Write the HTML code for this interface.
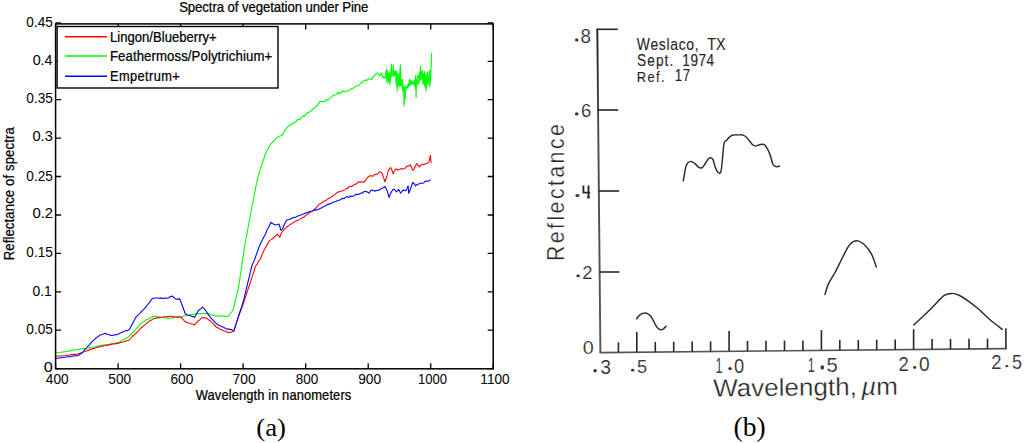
<!DOCTYPE html><html><head><meta charset="utf-8"><style>
html,body{margin:0;padding:0;background:#fff;}
body{width:1024px;height:443px;overflow:hidden;}
svg{display:block;}
</style></head><body>
<svg width="1024" height="443" viewBox="0 0 1024 443">
<rect width="1024" height="443" fill="#fff"/>
<g fill="#000">
<text transform="translate(179.14,12.30) scale(0.9300,1)" font-family="'Liberation Sans', sans-serif" font-style="normal" font-size="14.20" letter-spacing="-0.102" stroke="#000" stroke-width="0.25">Spectra of vegetation under Pine</text>
<polyline fill="none" stroke="#00ff00" stroke-width="1.1" stroke-linejoin="round" points="55.6,353.0 66.0,351.5 67.2,351.2 68.5,351.1 69.7,351.1 70.9,350.6 72.2,350.4 73.4,350.2 74.6,349.8 75.9,349.7 77.1,349.5 78.4,349.4 79.7,349.3 81.0,348.8 82.4,348.7 83.7,348.4 85.0,348.5 86.3,348.5 87.5,348.2 88.8,347.6 90.0,347.9 91.3,347.7 92.6,347.2 93.8,347.0 95.1,346.7 96.3,346.3 97.6,346.0 98.8,346.1 100.0,345.6 101.3,345.5 102.5,345.3 103.8,344.9 105.0,345.0 106.3,344.7 107.5,344.5 108.8,344.5 110.1,344.1 111.3,343.9 112.6,343.6 113.9,343.5 115.2,343.1 116.4,342.8 117.7,342.7 119.0,342.3 120.3,341.6 121.7,340.9 123.0,340.0 124.2,339.4 125.4,338.5 126.6,337.8 127.8,337.2 129.0,336.6 130.2,335.0 131.4,334.1 132.6,332.6 133.8,331.5 135.0,330.0 136.3,328.5 137.7,327.4 139.0,325.9 140.3,324.2 141.6,323.0 143.0,322.1 144.3,321.6 145.7,320.4 147.0,319.5 148.4,319.1 149.7,318.2 151.1,317.3 152.4,317.0 153.8,316.3 155.0,316.6 156.3,316.4 157.5,316.5 158.8,316.8 160.0,317.0 161.2,317.5 162.5,317.7 163.7,317.5 164.9,317.8 166.2,318.0 167.4,318.5 168.7,318.1 169.9,318.3 171.2,317.8 172.5,317.9 173.7,317.6 175.0,317.5 176.5,317.2 177.9,317.4 179.4,316.9 180.9,317.0 182.3,316.7 183.7,316.0 185.2,315.8 186.6,315.2 188.0,315.0 189.3,314.7 190.6,314.9 191.9,314.6 193.2,314.1 194.5,314.0 195.9,314.1 197.2,313.6 198.6,313.6 200.0,313.5 201.3,313.7 202.7,313.5 204.0,313.2 205.3,313.7 206.7,313.2 208.0,313.3 209.3,313.7 210.7,314.6 212.0,315.0 213.2,315.2 214.5,315.5 215.8,315.7 217.0,316.3 218.2,316.0 219.5,316.2 220.8,315.9 222.0,316.0 223.3,316.1 224.5,316.0 225.8,316.2 227.0,316.5 228.3,316.3 229.9,314.1 231.5,312.0 233.1,309.8 234.5,304.4 235.8,298.3 237.2,292.6 238.6,287.2 239.9,278.4 241.3,269.3 242.6,259.9 244.0,250.9 245.3,242.0 246.7,234.9 248.0,227.8 249.4,220.2 250.7,213.4 252.1,205.9 253.4,199.4 254.8,192.4 256.1,185.5 257.5,178.8 258.8,174.2 260.1,169.9 261.4,165.8 262.9,161.5 264.5,156.6 266.0,152.2 267.5,149.7 269.0,146.8 270.5,144.3 271.9,143.0 273.3,141.3 274.7,139.6 276.1,138.2 277.8,137.1 279.5,136.4 281.8,135.3 283.2,133.4 284.6,130.9 286.0,128.9 287.4,127.0 288.8,125.7 290.1,125.4 291.5,124.3 292.8,123.9 294.2,122.9 295.5,122.2 296.9,120.3 298.2,119.3 299.6,119.9 300.9,118.4 302.3,116.8 303.6,115.6 305.0,115.9 306.3,113.8 307.7,112.7 309.1,112.4 310.4,110.9 311.8,110.3 313.1,108.5 314.5,108.2 315.9,106.7 317.3,105.5 318.7,103.1 320.1,101.4 321.6,101.8 323.1,101.7 324.6,101.4 326.0,99.8 327.5,100.2 328.9,99.1 330.3,98.1 331.7,96.7 333.1,95.3 334.5,95.1 336.2,94.4 337.9,92.3 339.0,94.0 340.7,92.5 342.4,91.1 343.9,91.5 345.4,91.8 346.9,91.1 348.3,90.8 349.8,90.5 351.2,88.8 352.6,88.3 354.1,87.9 355.6,86.3 357.1,85.5 358.5,85.4 359.9,84.5 361.3,82.2 362.7,82.1 364.1,80.6 365.5,79.9 367.0,80.4 368.4,78.7 370.1,79.1 371.8,79.8 372.9,76.5 374.4,75.6 375.9,73.9 377.4,73.1 379.7,75.9 381.4,73.1 383.1,78.1 384.0,76.7 384.9,78.3 385.7,73.9 386.5,68.8 386.7,81.7 387.0,82.7 387.7,71.0 388.8,82.8 389.2,72.2 389.6,73.8 389.7,84.1 390.8,77.8 391.3,64.1 391.7,67.5 391.8,76.6 393.0,73.6 393.3,64.8 393.8,76.6 394.0,70.7 394.8,75.3 395.3,70.9 395.8,72.1 395.8,80.0 396.6,86.2 396.7,71.5 397.2,90.9 397.8,74.3 398.7,85.4 398.9,82.2 399.2,73.6 399.8,86.8 399.9,70.5 400.3,64.8 400.7,72.9 400.8,84.7 401.2,85.4 401.7,79.5 402.1,88.2 402.6,79.7 402.7,91.2 403.4,86.4 403.8,90.4 403.9,105.8 404.7,95.9 404.8,86.4 405.3,99.0 405.9,87.3 406.8,85.8 406.9,88.0 407.3,88.2 408.2,83.9 408.9,86.8 409.1,84.0 409.4,79.7 410.0,80.9 410.2,85.4 410.7,79.7 411.2,84.5 412.2,81.1 412.3,84.1 412.8,81.0 413.3,83.3 414.3,85.4 414.4,81.7 414.8,79.7 415.4,88.7 415.6,75.6 416.1,97.6 416.5,79.7 417.0,85.4 417.5,75.6 417.5,81.7 418.8,84.1 418.8,75.5 419.3,72.9 419.9,80.8 420.4,66.1 420.9,80.0 421.1,70.9 422.4,78.9 422.4,70.2 422.9,84.1 423.3,73.3 424.4,85.6 424.5,71.5 425.0,86.8 425.5,75.7 425.8,90.9 426.3,75.6 426.3,88.2 427.2,71.5 427.5,72.8 427.7,84.1 428.4,83.0 429.2,72.9 429.7,70.3 429.7,86.8 430.7,79.0 431.6,52.9"/>
<polyline fill="none" stroke="#ff0000" stroke-width="1.1" stroke-linejoin="round" points="55.6,356.2 66.0,355.5 67.2,355.3 68.5,355.3 69.7,355.1 70.9,354.6 72.2,354.4 73.4,354.4 74.6,354.2 75.9,354.4 77.1,354.0 78.4,353.7 79.7,353.2 81.0,352.8 82.4,352.4 83.7,351.7 85.0,351.5 86.3,351.0 87.5,350.4 88.8,350.4 90.0,349.4 91.3,349.4 92.6,348.5 93.8,348.5 95.1,347.9 96.3,347.5 97.6,347.2 98.8,347.2 100.0,346.4 101.3,346.1 102.5,346.3 103.8,345.8 105.0,345.5 106.3,345.0 107.5,345.4 108.8,345.1 110.1,344.4 111.3,344.4 112.6,344.0 113.9,343.9 115.2,343.9 116.4,343.4 117.7,343.4 119.0,343.2 120.3,342.4 121.7,342.2 123.0,342.0 124.2,341.8 125.4,341.1 126.6,340.8 127.8,340.5 129.0,340.0 130.2,338.8 131.4,337.5 132.6,336.1 133.8,335.3 135.0,334.0 136.3,333.0 137.7,331.6 139.0,330.1 140.3,328.7 141.6,327.5 143.0,326.3 144.3,325.4 145.7,324.2 147.0,323.0 148.4,321.9 149.7,321.0 151.1,320.2 152.4,319.4 153.8,318.5 155.0,318.5 156.3,318.1 157.5,317.6 158.8,317.9 160.0,317.5 161.4,317.3 162.7,317.2 164.1,316.8 165.5,316.8 166.9,316.6 168.2,316.6 169.6,316.3 170.9,316.2 172.3,316.7 173.7,316.6 175.0,317.0 176.5,317.1 177.9,316.7 179.4,316.9 180.9,317.0 182.4,318.5 183.9,320.3 185.4,321.9 186.9,322.2 188.5,322.9 190.0,323.5 191.5,323.8 193.0,324.3 194.5,324.9 196.2,322.9 198.0,321.0 199.5,320.1 200.9,318.6 202.4,317.4 204.2,318.0 206.0,318.0 207.4,318.7 208.9,320.1 210.3,320.8 211.6,322.1 213.0,323.3 214.3,325.0 215.7,326.5 217.0,327.6 218.2,327.9 219.5,328.7 220.8,329.6 222.0,330.0 223.3,330.5 224.5,331.0 225.8,331.4 227.0,332.0 228.3,332.8 229.7,332.4 231.2,332.1 232.6,331.7 234.0,330.9 235.3,326.6 236.7,322.0 238.0,318.0 239.3,314.3 240.6,311.0 241.9,307.4 243.2,303.7 244.5,300.0 245.9,295.7 247.2,291.8 248.6,287.6 250.0,283.5 251.3,279.3 252.7,274.9 254.0,271.0 255.3,266.5 256.9,264.4 258.4,261.6 260.0,259.5 261.4,256.2 262.7,253.5 264.1,250.1 265.5,247.6 266.8,245.6 268.1,243.0 269.5,240.6 271.1,239.6 272.6,238.5 274.2,237.2 275.9,235.5 277.6,234.1 279.7,237.2 281.7,232.5 283.3,230.6 284.8,228.8 286.4,227.1 287.8,226.3 289.1,225.4 290.4,224.2 291.8,223.7 293.1,222.6 294.5,221.7 295.9,220.9 297.2,220.4 298.6,220.0 300.0,219.1 301.4,218.2 302.7,217.4 304.1,216.7 305.4,215.8 306.8,214.6 308.1,213.8 309.4,212.7 310.8,211.9 312.1,211.1 313.4,210.1 314.7,209.0 316.0,207.8 317.2,206.4 318.5,205.1 319.8,203.9 321.2,203.2 322.6,202.2 324.0,201.1 325.4,200.6 326.8,199.9 328.2,198.8 329.5,198.1 330.8,197.3 332.0,196.5 333.3,195.4 334.6,194.7 335.8,193.6 337.1,192.6 338.4,192.0 339.7,191.6 341.0,191.3 342.4,190.8 343.7,190.4 345.0,189.6 346.3,188.6 347.7,188.6 349.0,186.5 350.4,186.5 351.7,186.6 353.1,185.2 354.6,184.6 356.1,184.1 357.6,182.6 359.0,181.8 360.3,182.3 361.7,181.8 363.0,182.1 364.4,181.9 366.0,179.7 367.7,177.3 368.9,176.1 370.1,176.0 371.3,175.7 372.6,176.3 373.8,175.7 375.0,174.3 376.2,174.4 377.6,174.0 378.9,172.0 380.3,171.7 382.3,173.7 383.6,177.9 385.0,181.8 387.1,175.7 388.4,170.3 390.5,167.6 391.9,170.1 393.2,173.7 395.2,169.6 396.6,168.8 397.9,170.2 399.3,169.6 400.6,168.9 402.0,168.7 403.3,169.0 405.0,168.4 406.7,166.2 408.4,166.1 410.1,164.9 411.5,167.3 412.8,170.3 414.2,168.8 415.5,165.8 416.9,163.5 418.2,165.5 419.6,166.9 421.0,165.1 422.3,164.2 423.6,164.7 425.0,164.0 426.3,163.5 427.6,163.2 429.0,161.5 430.4,155.4 431.1,162.9"/>
<polyline fill="none" stroke="#0000ff" stroke-width="1.1" stroke-linejoin="round" points="55.6,358.5 66.0,357.0 67.2,356.7 68.5,356.8 69.7,356.7 70.9,356.7 72.2,356.1 73.4,356.0 74.6,355.9 75.9,355.8 77.1,355.8 78.6,355.2 80.1,354.0 81.6,353.5 82.9,352.0 84.2,350.3 85.4,348.9 86.7,347.5 88.0,346.0 89.4,344.8 90.8,343.2 92.3,341.4 93.7,340.1 95.1,338.8 96.3,337.6 97.5,337.1 98.8,336.1 100.0,335.0 101.3,334.7 102.7,334.3 104.0,333.8 105.3,333.2 106.7,334.0 108.1,334.5 109.5,334.8 110.9,335.5 112.3,335.5 113.6,335.0 115.0,334.9 116.3,334.6 117.7,334.3 119.0,333.7 120.2,333.1 121.5,332.6 122.7,331.9 124.0,331.5 125.2,330.8 126.5,330.8 127.8,330.4 129.0,329.8 130.4,327.6 131.7,325.0 133.1,322.4 134.4,320.0 135.8,317.4 137.1,315.9 138.4,314.9 139.7,313.5 140.9,312.1 142.2,310.8 143.5,309.7 144.8,308.4 146.1,306.6 147.4,305.0 148.8,303.4 150.1,301.5 151.4,299.7 152.7,298.2 153.9,298.2 155.1,298.0 156.3,298.0 157.6,298.0 158.8,298.1 160.0,298.2 161.2,297.9 162.5,298.3 163.7,298.5 164.9,298.1 166.2,298.3 167.4,298.2 168.9,297.7 170.4,296.5 171.9,296.0 173.6,297.2 175.3,298.9 176.8,299.1 178.3,299.1 179.8,298.9 181.2,302.8 182.6,306.2 184.0,310.2 185.4,314.0 186.9,314.7 188.5,315.2 190.0,315.5 191.5,316.3 193.0,316.6 194.5,317.4 196.2,314.4 198.0,311.0 199.5,309.7 200.9,308.6 202.4,307.2 204.2,308.9 206.0,311.0 207.4,313.4 208.9,315.3 210.3,317.4 211.6,318.9 213.0,319.9 214.3,321.6 215.7,322.9 217.0,324.2 218.3,324.9 219.6,325.4 220.9,326.3 222.2,326.7 223.5,327.3 224.8,327.9 226.1,328.7 227.4,329.1 228.7,329.1 230.1,329.4 231.4,329.6 232.7,330.3 234.0,330.5 235.3,326.4 236.7,322.2 238.0,318.0 239.3,313.7 240.6,310.0 241.9,306.0 243.7,300.0 245.0,294.3 246.4,288.6 247.7,283.0 249.0,278.0 250.4,271.9 251.7,266.5 253.1,262.9 254.6,259.5 256.2,254.9 257.8,250.6 259.4,246.0 260.8,243.0 262.1,240.6 263.4,237.8 264.8,235.2 266.0,232.8 267.2,229.7 268.5,227.4 269.7,224.9 270.9,222.3 272.2,223.5 273.6,224.1 274.9,225.0 276.3,224.7 277.6,224.5 279.0,224.1 281.0,230.4 282.4,229.1 283.7,226.0 285.1,223.0 286.4,220.3 287.8,219.8 289.1,219.5 290.4,218.9 291.8,218.3 293.2,217.6 294.5,217.4 295.9,217.0 297.3,216.1 298.6,215.8 300.0,215.2 301.3,214.7 302.5,214.2 303.8,213.7 305.0,213.2 306.3,212.9 307.5,212.3 308.8,212.0 310.0,211.4 311.3,211.2 312.6,211.0 313.9,210.5 315.2,209.8 316.6,209.9 317.9,209.2 319.2,209.0 320.5,208.3 321.8,207.7 323.1,206.9 324.3,206.2 325.6,205.7 326.9,204.8 328.2,204.4 329.5,204.1 330.8,203.2 332.0,203.1 333.3,202.3 334.6,201.8 335.8,201.4 337.1,200.7 338.4,200.5 339.8,199.9 341.1,199.2 342.5,198.2 343.8,198.8 345.2,197.7 346.5,196.6 347.8,197.1 349.1,197.5 350.5,195.9 351.8,196.4 353.1,196.0 354.4,195.7 355.8,194.3 357.1,194.4 358.5,194.5 359.8,193.7 361.2,193.1 362.6,193.0 364.1,191.5 365.5,191.5 367.2,191.9 368.9,193.1 370.8,190.6 372.1,190.0 373.5,190.6 374.9,191.3 376.2,190.6 377.6,190.3 378.9,190.2 380.3,189.3 381.9,188.2 383.4,187.8 385.0,186.5 387.1,190.6 389.1,197.4 390.8,193.0 392.5,189.9 394.5,189.3 396.5,192.0 398.6,189.3 400.6,193.3 402.0,191.3 403.3,189.9 404.6,190.5 406.0,190.6 408.1,185.9 408.7,193.3 410.1,190.1 411.4,186.0 412.8,182.5 414.1,183.5 415.5,185.9 416.9,184.8 418.2,184.0 419.6,183.8 421.0,183.1 422.3,183.2 423.6,183.0 425.0,181.3 426.3,181.1 427.7,181.3 429.0,180.8 430.4,179.8"/>
<rect x="55.6" y="23.9" width="437.59999999999997" height="344.90000000000003" fill="none" stroke="#000" stroke-width="1.5"/>
<path d="M55.6,368.8v-5.5M55.6,23.9v5.5M118.1,368.8v-5.5M118.1,23.9v5.5M180.6,368.8v-5.5M180.6,23.9v5.5M243.1,368.8v-5.5M243.1,23.9v5.5M305.7,368.8v-5.5M305.7,23.9v5.5M368.2,368.8v-5.5M368.2,23.9v5.5M430.7,368.8v-5.5M430.7,23.9v5.5M493.2,368.8v-5.5M493.2,23.9v5.5M55.6,368.6h5.5M493.2,368.6h-5.5M55.6,330.2h5.5M493.2,330.2h-5.5M55.6,291.8h5.5M493.2,291.8h-5.5M55.6,253.4h5.5M493.2,253.4h-5.5M55.6,215.0h5.5M493.2,215.0h-5.5M55.6,176.5h5.5M493.2,176.5h-5.5M55.6,138.1h5.5M493.2,138.1h-5.5M55.6,99.7h5.5M493.2,99.7h-5.5M55.6,61.3h5.5M493.2,61.3h-5.5M55.6,22.9h5.5M493.2,22.9h-5.5" stroke="#000" stroke-width="1.3" fill="none"/>
<text transform="translate(45.83,383.66) scale(0.9800,1)" font-family="'Liberation Sans', sans-serif" font-style="normal" font-size="13.94" >400</text>
<text transform="translate(108.36,383.66) scale(0.9743,1)" font-family="'Liberation Sans', sans-serif" font-style="normal" font-size="13.94" >500</text>
<text transform="translate(170.41,383.66) scale(0.9850,1)" font-family="'Liberation Sans', sans-serif" font-style="normal" font-size="13.94" >600</text>
<text transform="translate(232.61,383.66) scale(0.9941,1)" font-family="'Liberation Sans', sans-serif" font-style="normal" font-size="13.94" >700</text>
<text transform="translate(295.66,383.66) scale(0.9698,1)" font-family="'Liberation Sans', sans-serif" font-style="normal" font-size="13.94" >800</text>
<text transform="translate(358.21,383.66) scale(0.9850,1)" font-family="'Liberation Sans', sans-serif" font-style="normal" font-size="13.94" >900</text>
<text transform="translate(417.95,383.66) scale(0.9426,1)" font-family="'Liberation Sans', sans-serif" font-style="normal" font-size="13.94" >1000</text>
<text transform="translate(480.31,383.66) scale(0.9786,1)" font-family="'Liberation Sans', sans-serif" font-style="normal" font-size="13.94" >1100</text>
<text transform="translate(43.85,371.96) scale(1.1311,1)" font-family="'Liberation Sans', sans-serif" font-style="normal" font-size="14.37" >0</text>
<text transform="translate(26.36,334.06) scale(0.9562,1)" font-family="'Liberation Sans', sans-serif" font-style="normal" font-size="14.23" >0.05</text>
<text transform="translate(32.44,296.36) scale(0.9788,1)" font-family="'Liberation Sans', sans-serif" font-style="normal" font-size="14.23" >0.1</text>
<text transform="translate(26.36,256.66) scale(0.9658,1)" font-family="'Liberation Sans', sans-serif" font-style="normal" font-size="14.08" >0.15</text>
<text transform="translate(32.40,218.36) scale(1.0702,1)" font-family="'Liberation Sans', sans-serif" font-style="normal" font-size="13.94" >0.2</text>
<text transform="translate(26.36,180.66) scale(0.9658,1)" font-family="'Liberation Sans', sans-serif" font-style="normal" font-size="14.08" >0.25</text>
<text transform="translate(32.41,141.16) scale(1.0303,1)" font-family="'Liberation Sans', sans-serif" font-style="normal" font-size="14.23" >0.3</text>
<text transform="translate(26.36,103.16) scale(0.9562,1)" font-family="'Liberation Sans', sans-serif" font-style="normal" font-size="14.23" >0.35</text>
<text transform="translate(32.63,65.15) scale(0.9870,1)" font-family="'Liberation Sans', sans-serif" font-style="normal" font-size="14.51" >0.4</text>
<text transform="translate(26.36,26.95) scale(0.9286,1)" font-family="'Liberation Sans', sans-serif" font-style="normal" font-size="14.65" >0.45</text>
<text transform="translate(195.77,399.60) scale(0.9300,1)" font-family="'Liberation Sans', sans-serif" font-style="normal" font-size="13.91" letter-spacing="0.102" stroke="#000" stroke-width="0.25">Wavelength in nanometers</text>
<text transform="translate(14.40,260.35) rotate(-90) scale(0.9300,1)" font-family="'Liberation Sans', sans-serif" font-style="normal" font-size="14.06" letter-spacing="0.157" stroke="#000" stroke-width="0.25">Reflectance of spectra</text>
<rect x="57.1" y="26.5" width="220.9" height="61.5" fill="#fff" stroke="#000" stroke-width="1.4"/>
<path d="M65,36.7h42" stroke="#ff0000" stroke-width="1.5"/>
<path d="M65,55.9h42" stroke="#00ff00" stroke-width="1.5"/>
<path d="M65,76.3h42" stroke="#0000ff" stroke-width="1.5"/>
<text transform="translate(109.95,41.60) scale(0.9300,1)" font-family="'Liberation Sans', sans-serif" font-style="normal" font-size="14.06" letter-spacing="0.025" stroke="#000" stroke-width="0.25">Lingon/Blueberry+</text>
<text transform="translate(109.94,60.90) scale(0.9300,1)" font-family="'Liberation Sans', sans-serif" font-style="normal" font-size="14.20" letter-spacing="0.088" stroke="#000" stroke-width="0.25">Feathermoss/Polytrichium+</text>
<text transform="translate(109.98,80.80) scale(0.9300,1)" font-family="'Liberation Sans', sans-serif" font-style="normal" font-size="13.77" letter-spacing="0.441" stroke="#000" stroke-width="0.25">Empetrum+</text>
</g>
<defs><linearGradient id="yax" x1="0" y1="29" x2="0" y2="352" gradientUnits="userSpaceOnUse"><stop offset="0" stop-color="#222"/><stop offset="0.3" stop-color="#4a4a4a"/><stop offset="1" stop-color="#555"/></linearGradient></defs>
<path d="M597.3,29 L600.4,352.6" stroke="url(#yax)" stroke-width="1.9" fill="none"/>
<path d="M599.5,352.6 L1006.9,348.6" stroke="#555" stroke-width="1.7" fill="none"/>
<g stroke="#262626" fill="none" stroke-width="1.6" stroke-linecap="butt">
<path d="M596.4,29.3H617.8"/>
<path d="M597.9,110H618.2"/>
<path d="M598.6,191H619.1"/>
<path d="M599.3,272H619.4"/>
<path d="M618.4,352.4V342.2"/>
<path d="M636.8,352.2V331.9"/>
<path d="M655.3,352.1V341.9"/>
<path d="M673.7,351.9V341.7"/>
<path d="M692.2,351.7V341.5"/>
<path d="M710.6,351.5V341.3"/>
<path d="M729.1,351.3V331.0"/>
<path d="M747.5,351.2V341.0"/>
<path d="M766.0,351.0V340.8"/>
<path d="M784.5,350.8V340.6"/>
<path d="M802.9,350.6V340.4"/>
<path d="M821.4,350.4V330.1"/>
<path d="M839.8,350.2V340.0"/>
<path d="M858.3,350.1V339.9"/>
<path d="M876.7,349.9V339.7"/>
<path d="M895.2,349.7V339.5"/>
<path d="M913.6,349.5V329.2"/>
<path d="M932.1,349.3V339.1"/>
<path d="M950.5,349.2V339.0"/>
<path d="M969.0,349.0V338.8"/>
<path d="M987.5,348.8V338.6"/>
<path d="M1005.9,348.6V328.3"/>
<path stroke-width="1.45" stroke="#2a2a2a" stroke-linejoin="round" d="M636.30,319.40C636.67,318.87 637.63,317.13 638.50,316.20C639.37,315.27 640.52,314.32 641.50,313.80C642.48,313.28 643.40,313.13 644.40,313.10C645.40,313.07 646.37,313.00 647.50,313.60C648.63,314.20 649.98,315.05 651.20,316.70C652.42,318.35 653.75,321.65 654.80,323.50C655.85,325.35 656.53,326.75 657.50,327.80C658.47,328.85 659.60,329.63 660.60,329.80C661.60,329.97 662.52,329.48 663.50,328.80C664.48,328.12 666.00,326.22 666.50,325.70"/>
<path stroke-width="1.45" stroke="#2a2a2a" stroke-linejoin="round" d="M683.20,181.30C683.47,179.77 684.20,174.95 684.80,172.10C685.40,169.25 685.80,165.98 686.80,164.20C687.80,162.42 689.48,161.53 690.80,161.40C692.12,161.27 693.38,162.40 694.70,163.40C696.02,164.40 697.45,166.68 698.70,167.40C699.95,168.12 701.02,168.48 702.20,167.70C703.38,166.92 704.60,164.33 705.80,162.70C707.00,161.07 708.22,158.43 709.40,157.90C710.58,157.37 711.92,157.92 712.90,159.50C713.88,161.08 714.50,165.30 715.30,167.40C716.10,169.50 716.78,171.32 717.70,172.10C718.62,172.88 720.02,174.20 720.80,172.10C721.58,170.00 721.87,164.23 722.40,159.50C722.93,154.77 723.35,146.87 724.00,143.70C724.65,140.53 725.30,141.68 726.30,140.50C727.30,139.32 728.83,137.52 730.00,136.60C731.17,135.68 732.22,135.28 733.30,135.00C734.38,134.72 735.47,134.92 736.50,134.90C737.53,134.88 738.48,134.88 739.50,134.90C740.52,134.92 741.43,134.62 742.60,135.00C743.77,135.38 744.87,135.62 746.50,137.20C748.13,138.78 750.88,143.02 752.40,144.50C753.92,145.98 754.28,146.10 755.60,146.10C756.92,146.10 758.73,144.63 760.30,144.50C761.87,144.37 763.42,143.72 765.00,145.30C766.58,146.88 768.48,150.85 769.80,154.00C771.12,157.15 771.85,162.10 772.90,164.20C773.95,166.30 774.90,166.28 776.10,166.60C777.30,166.92 779.43,166.18 780.10,166.10"/>
<path stroke-width="1.45" stroke="#2a2a2a" stroke-linejoin="round" d="M824.80,295.10C825.35,293.35 826.35,288.45 828.10,284.60C829.85,280.75 832.90,276.52 835.30,272.00C837.70,267.48 840.25,261.87 842.50,257.50C844.75,253.13 847.00,248.45 848.80,245.80C850.60,243.15 851.78,242.42 853.30,241.60C854.82,240.78 856.08,240.42 857.90,240.90C859.72,241.38 861.95,242.33 864.20,244.50C866.45,246.67 869.35,250.08 871.40,253.90C873.45,257.72 875.65,265.15 876.50,267.40"/>
<path stroke-width="1.45" stroke="#2a2a2a" stroke-linejoin="round" d="M913.40,325.30C915.12,323.72 920.13,319.22 923.70,315.80C927.27,312.38 931.37,308.22 934.80,304.80C938.23,301.38 941.40,297.20 944.30,295.30C947.20,293.40 949.83,293.45 952.20,293.40C954.57,293.35 955.87,293.77 958.50,295.00C961.13,296.23 964.57,298.38 968.00,300.80C971.43,303.22 975.42,306.33 979.10,309.50C982.78,312.67 986.15,316.42 990.10,319.80C994.05,323.18 1000.68,328.13 1002.80,329.80"/>
</g>
<g fill="#333">
<ellipse cx="576.70" cy="39.90" rx="1.70" ry="1.60"/>
<ellipse cx="576.70" cy="113.95" rx="1.80" ry="1.65"/>
<ellipse cx="577.45" cy="195.50" rx="2.05" ry="1.50"/>
<ellipse cx="578.10" cy="275.95" rx="1.70" ry="1.35"/>
<text transform="translate(580.55,42.60) scale(0.9296,1)" font-family="'Liberation Sans', sans-serif" font-style="normal" font-size="20.14" stroke="#fff" stroke-width="0.12" >8</text>
<text transform="translate(580.88,117.12) scale(1.0250,1)" font-family="'Liberation Sans', sans-serif" font-style="normal" font-size="18.03" stroke="#fff" stroke-width="0.12" >6</text>
<path d="M583.4,185.4V192.6H590.2M588.5,185.4V197.4M586.9,197.4H590" stroke="#2a2a2a" stroke-width="1.9" fill="none"/>
<text transform="translate(582.28,279.00) scale(0.9799,1)" font-family="'Liberation Sans', sans-serif" font-style="normal" font-size="18.86" stroke="#fff" stroke-width="0.12" >2</text>
<text transform="translate(582.71,353.52) scale(1.0809,1)" font-family="'Liberation Sans', sans-serif" font-style="normal" font-size="18.31" stroke="#fff" stroke-width="0.12" >0</text>
<ellipse cx="595.10" cy="370.75" rx="1.70" ry="1.75"/>
<text transform="translate(600.23,373.60) scale(0.9890,1)" font-family="'Liberation Sans', sans-serif" font-style="normal" font-size="19.58" stroke="#fff" stroke-width="0.12" >3</text>
<ellipse cx="632.70" cy="370.15" rx="1.70" ry="1.45"/>
<text transform="translate(636.88,373.01) scale(0.9518,1)" font-family="'Liberation Sans', sans-serif" font-style="normal" font-size="19.00" stroke="#fff" stroke-width="0.12" >5</text>
<ellipse cx="730.05" cy="368.60" rx="1.75" ry="1.70"/>
<text transform="translate(715.60,372.90) scale(0.5935,1)" font-family="'Liberation Sans', sans-serif" font-style="normal" font-size="21.16" stroke="#fff" stroke-width="0.12" >1</text>
<text transform="translate(733.97,372.69) scale(0.8916,1)" font-family="'Liberation Sans', sans-serif" font-style="normal" font-size="20.56" stroke="#fff" stroke-width="0.12" >0</text>
<ellipse cx="822.25" cy="367.40" rx="1.75" ry="2.20"/>
<text transform="translate(807.80,371.80) scale(0.6234,1)" font-family="'Liberation Sans', sans-serif" font-style="normal" font-size="20.14" stroke="#fff" stroke-width="0.12" >1</text>
<text transform="translate(826.39,371.59) scale(0.9758,1)" font-family="'Liberation Sans', sans-serif" font-style="normal" font-size="20.71" stroke="#fff" stroke-width="0.12" >5</text>
<ellipse cx="914.65" cy="367.45" rx="1.55" ry="1.45"/>
<text transform="translate(898.58,371.10) scale(0.9045,1)" font-family="'Liberation Sans', sans-serif" font-style="normal" font-size="20.43" stroke="#fff" stroke-width="0.12" >2</text>
<text transform="translate(918.93,370.60) scale(0.9720,1)" font-family="'Liberation Sans', sans-serif" font-style="normal" font-size="19.72" stroke="#fff" stroke-width="0.12" >0</text>
<ellipse cx="1006.85" cy="366.15" rx="1.55" ry="1.15"/>
<text transform="translate(991.18,369.40) scale(0.9306,1)" font-family="'Liberation Sans', sans-serif" font-style="normal" font-size="19.86" stroke="#fff" stroke-width="0.12" >2</text>
<text transform="translate(1012.09,369.49) scale(0.8628,1)" font-family="'Liberation Sans', sans-serif" font-style="normal" font-size="20.71" stroke="#fff" stroke-width="0.12" >5</text>
<text transform="translate(713.14,396.62) rotate(-0.6) scale(1.0562,1)" font-family="'Liberation Sans', sans-serif" font-style="normal" font-size="24.68" stroke="#fff" stroke-width="0.3" fill="#262626">Wavelength,<tspan font-style="italic" dx="4">µ</tspan>m</text>
<text transform="translate(564.26,261.00) rotate(-90) scale(0.9000,1)" font-family="'Liberation Sans', sans-serif" font-style="normal" font-size="23.65" letter-spacing="2.720" stroke="#fff" stroke-width="0.3" fill="#262626">Reflectance</text>
<text transform="translate(636.86,49.90) scale(0.8500,1)" font-family="'Liberation Sans', sans-serif" font-style="normal" font-size="16.38" letter-spacing="0.793" fill="#262626" stroke="#262626" stroke-width="0.12">Weslaco,</text>
<text transform="translate(707.31,49.60) scale(0.8945,1)" font-family="'Liberation Sans', sans-serif" font-style="normal" font-size="16.09" fill="#262626" stroke="#262626" stroke-width="0.12">TX</text>
<text transform="translate(637.02,66.30) scale(0.8500,1)" font-family="'Liberation Sans', sans-serif" font-style="normal" font-size="16.09" letter-spacing="1.281" fill="#262626" stroke="#262626" stroke-width="0.12">Sept.</text>
<text transform="translate(682.31,66.20) scale(0.8500,1)" font-family="'Liberation Sans', sans-serif" font-style="normal" font-size="16.09" letter-spacing="0.568" fill="#262626" stroke="#262626" stroke-width="0.12">1974</text>
<text transform="translate(636.67,81.90) scale(0.8500,1)" font-family="'Liberation Sans', sans-serif" font-style="normal" font-size="15.22" letter-spacing="1.697" fill="#262626" stroke="#262626" stroke-width="0.12">Ref.</text>
<text transform="translate(674.64,81.40) scale(0.8500,1)" font-family="'Liberation Sans', sans-serif" font-style="normal" font-size="15.65" letter-spacing="0.896" fill="#262626" stroke="#262626" stroke-width="0.12">17</text>
</g>
<text transform="translate(256.23,435.92) scale(1.0262,1)" font-family="'Liberation Serif', serif" font-style="normal" font-size="26.11" fill="#000">(a)</text>
<text transform="translate(733.60,435.98) scale(1.0304,1)" font-family="'Liberation Serif', serif" font-style="normal" font-size="26.78" fill="#000">(b)</text>
</svg></body></html>
